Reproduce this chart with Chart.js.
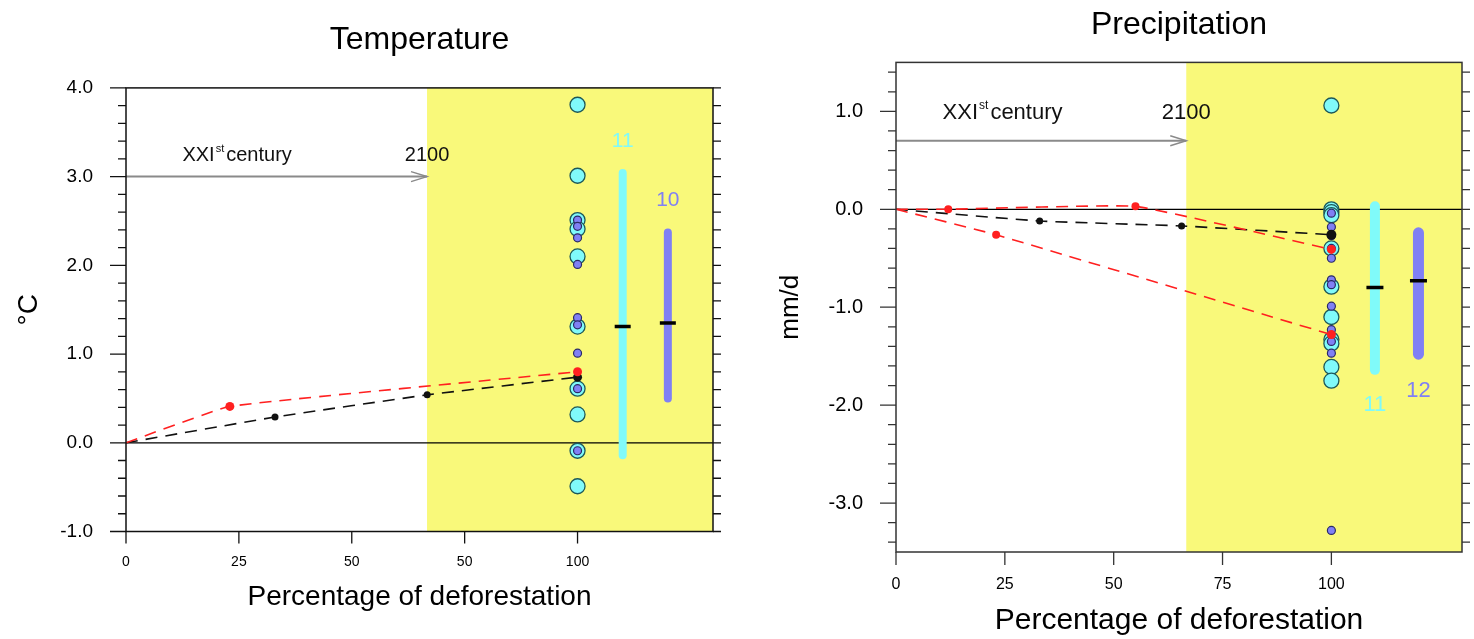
<!DOCTYPE html>
<html>
<head>
<meta charset="utf-8">
<title>Temperature and precipitation vs deforestation</title>
<script src="https://cdn.jsdelivr.net/npm/chart.js@4.4.0/dist/chart.umd.min.js"></script>
<style>
  body { margin: 0; background: #fff; }
  .panel { position: absolute; top: 0; width: 737px; height: 639px; }
  #tempPanel { left: 0; }
  #precPanel { left: 737px; }
</style>
</head>
<body>
<div class="panel" id="tempPanel"><canvas id="tempChart" width="737" height="639"></canvas></div>
<div class="panel" id="precPanel"><canvas id="precChart" width="737" height="639"></canvas></div>
<script>
// x positions of the columns (percentage of deforestation)
const MODELS_AT = 100;
const RANGE_A_AT = 110;
const RANGE_B_AT = 120;

// shared x ticks
const xTickVals = [0, 25, 50, 75, 100];
const tempXTickText = ['0', '25', '50', '50', '100'];
const precXTickText = ['0', '25', '50', '75', '100'];

// ---- Temperature (°C) ----
const tempYTicks = [-1, 0, 1, 2, 3, 4];
const tempCyan   = [3.81, 3.01, 2.51, 2.41, 2.10, 1.31, 0.61, 0.32, -0.09, -0.49];
const tempPurple = [2.51, 2.44, 2.31, 2.01, 1.41, 1.33, 1.01, 0.61, -0.09];
const tempRedX   = [0, 23, 100];
const tempRedY   = [0, 0.41, 0.80];
const tempBlackX = [0, 33, 66.7, 100];
const tempBlackY = [0, 0.29, 0.54, 0.74];
const tempCyanRange   = [-0.14, 3.04];
const tempPurpleRange = [0.50, 2.37];
const tempMedians     = [1.31, 1.35];
const tempCounts      = ['11', '10'];

// ---- Precipitation (mm/d) ----
const precYTicks = [-3, -2, -1, 0, 1];
const precCyan   = [1.06, 0.00, -0.03, -0.06, -0.40, -0.79, -1.10, -1.33, -1.37, -1.61, -1.75];
const precPurple = [-0.04, -0.18, -0.27, -0.40, -0.50, -0.72, -0.77, -0.99, -1.23, -1.35, -1.47, -3.28];
const precRedAX  = [0, 12, 55, 100];
const precRedAY  = [0, 0.00, 0.03, -0.41];
const precRedBX  = [0, 23, 100];
const precRedBY  = [0, -0.26, -1.28];
const precBlackX = [0, 33, 65.6, 100];
const precBlackY = [0, -0.12, -0.17, -0.26];
const precCyanRange   = [-1.64, 0.03];
const precPurpleRange = [-1.48, -0.24];
const precMedians     = [-0.80, -0.73];
const precCounts      = ['11', '12'];

const FONT = '"Liberation Sans", Arial, Helvetica, sans-serif';
const CYAN = '#80fafa';
const PURPLE = '#8080f4';
const YELLOW = '#f9f97a';

Chart.defaults.font.family = FONT;
Chart.defaults.color = '#000';

function pts(xs, ys) { return xs.map((x, i) => ({ x: x, y: ys[i] })); }
function column(xv, ys) { return ys.map(v => ({ x: xv, y: v })); }

function dashedLine(xs, ys, color, radii) {
    return {
        showLine: true,
        data: pts(xs, ys),
        borderColor: color,
        backgroundColor: color,
        borderWidth: 1.6,
        borderDash: [12, 8],
        tension: 0.1,
        pointRadius: radii,
        pointBorderWidth: 0,
        pointHoverRadius: 0
    };
}

function rangeBar(xv, range, color, width) {
    return {
        showLine: true,
        data: column(xv, range),
        borderColor: color,
        borderWidth: width,
        borderCapStyle: 'round',
        pointRadius: 0,
        pointHoverRadius: 0
    };
}

// yellow zone, zero line, arrow, frame, ticks and annotations
const decorPlugin = {
    id: 'decor',
    beforeDatasetsDraw(chart, args, o) {
        const { ctx, chartArea: a, scales: { x, y } } = chart;
        ctx.save();
        const zx = x.getPixelForValue(o.zoneFrom);
        ctx.fillStyle = YELLOW;
        ctx.fillRect(zx, a.top, a.right - zx, a.bottom - a.top);

        const y0 = y.getPixelForValue(0);
        ctx.strokeStyle = '#000';
        ctx.lineWidth = 1.3;
        ctx.beginPath(); ctx.moveTo(a.left, y0); ctx.lineTo(a.right, y0); ctx.stroke();

        // XXIst century arrow
        const ay = y.getPixelForValue(o.arrowAt);
        ctx.strokeStyle = '#8a8a8a';
        ctx.lineWidth = 2;
        ctx.beginPath(); ctx.moveTo(x.getPixelForValue(0), ay); ctx.lineTo(zx, ay); ctx.stroke();
        ctx.lineWidth = 1.5;
        ctx.beginPath(); ctx.moveTo(zx - 16, ay - 5); ctx.lineTo(zx, ay); ctx.lineTo(zx - 16, ay + 5); ctx.stroke();

        const s = o.textSize;
        const by = y.getPixelForValue(o.textAt);
        let tx = x.getPixelForValue(o.textFrom);
        ctx.fillStyle = '#111';
        ctx.textBaseline = 'alphabetic';
        ctx.textAlign = 'left';
        ctx.font = s + 'px ' + FONT;
        ctx.fillText('XXI', tx, by);
        tx += ctx.measureText('XXI').width + 1;
        ctx.font = Math.round(s * 0.55) + 'px ' + FONT;
        ctx.fillText('st', tx, by - s * 0.45);
        tx += ctx.measureText('st').width + 2;
        ctx.font = s + 'px ' + FONT;
        ctx.fillText('century', tx, by);
        ctx.textAlign = 'center';
        ctx.fillText('2100', zx, by);
        ctx.restore();
    },
    afterDatasetsDraw(chart, args, o) {
        const { ctx, chartArea: a, scales: { x, y } } = chart;
        ctx.save();
        ctx.strokeStyle = o.frameColor;
        ctx.lineWidth = 1.5;
        ctx.strokeRect(a.left, a.top, a.right - a.left, a.bottom - a.top);

        // y ticks: left major/minor, right mirrored
        ctx.lineWidth = 1.3;
        ctx.beginPath();
        for (let v = Math.ceil(y.min / 0.2 - 1e-6) * 0.2; v <= y.max + 1e-6; v += 0.2) {
            const py = y.getPixelForValue(v);
            const major = Math.abs(v - Math.round(v)) < 1e-6;
            ctx.moveTo(a.left - (major ? 16 : 8), py); ctx.lineTo(a.left, py);
            ctx.moveTo(a.right, py); ctx.lineTo(a.right + 8, py);
        }
        x.ticks.forEach(t => {
            const px = x.getPixelForValue(t.value);
            ctx.moveTo(px, a.bottom); ctx.lineTo(px, a.bottom + o.xTickLen);
        });
        ctx.stroke();

        // ensemble counts
        ctx.font = o.countSize + 'px ' + FONT;
        ctx.textAlign = 'center';
        ctx.textBaseline = 'middle';
        o.counts.forEach(c => {
            ctx.fillStyle = c.color;
            ctx.fillText(c.text, x.getPixelForValue(c.x), y.getPixelForValue(c.y));
        });
        ctx.restore();
    }
};

function renderPanel(canvasId, d, look) {
    const ctx = document.getElementById(canvasId);
    const datasets = [];
    d.lines.forEach(l => datasets.push(dashedLine(l.x, l.y, l.color, l.radii)));
    // medians of the two ensembles
    datasets.push({
        data: [{ x: RANGE_A_AT, y: d.medians[0] }, { x: RANGE_B_AT, y: d.medians[1] }],
        pointStyle: 'line',
        pointRadius: look.medianR,
        borderColor: '#000',
        borderWidth: 3.5,
        pointHoverRadius: 0
    });
    datasets.push({
        data: column(MODELS_AT, d.purple),
        pointRadius: 4,
        backgroundColor: PURPLE,
        borderColor: '#2a2a66',
        borderWidth: 1.2,
        pointHoverRadius: 0
    });
    datasets.push({
        data: column(MODELS_AT, d.cyan),
        pointRadius: 7.5,
        backgroundColor: CYAN,
        borderColor: '#1d5858',
        borderWidth: 1.3,
        pointHoverRadius: 0
    });
    datasets.push(rangeBar(RANGE_A_AT, d.cyanRange, CYAN, look.barW[0]));
    datasets.push(rangeBar(RANGE_B_AT, d.purpleRange, PURPLE, look.barW[1]));

    return new Chart(ctx, {
        type: 'scatter',
        data: { datasets: datasets },
        options: {
            responsive: false,
            animation: false,
            events: [],
            layout: { padding: { left: 0, right: look.padRight, top: 0, bottom: 0 } },
            scales: {
                x: {
                    type: 'linear',
                    min: 0,
                    max: 130,
                    afterBuildTicks: s => { s.ticks = xTickVals.map(v => ({ value: v })); },
                    afterFit: s => { s.height = look.xAxisH; },
                    grid: { display: false, drawTicks: false },
                    border: { display: false },
                    ticks: {
                        autoSkip: false,
                        maxRotation: 0,
                        padding: look.xTickPad,
                        font: { size: look.xTickSize },
                        callback: (v, i) => d.xText[i]
                    },
                    title: {
                        display: true,
                        text: 'Percentage of deforestation',
                        font: { size: look.xTitleSize },
                        padding: { top: 0, bottom: look.xTitlePad }
                    }
                },
                y: {
                    min: d.yMin,
                    max: d.yMax,
                    afterBuildTicks: s => { s.ticks = d.yTicks.map(v => ({ value: v })); },
                    afterFit: s => { s.width = look.yAxisW; },
                    grid: { display: false, drawTicks: false },
                    border: { display: false },
                    ticks: {
                        autoSkip: false,
                        padding: 33,
                        font: { size: look.yTickSize },
                        callback: v => v.toFixed(1)
                    },
                    title: {
                        display: true,
                        text: d.yTitle,
                        font: { size: look.yTitleSize },
                        padding: { top: look.yTitlePad, bottom: 0 }
                    }
                }
            },
            plugins: {
                legend: { display: false },
                tooltip: { enabled: false },
                title: {
                    display: true,
                    text: d.title,
                    fullSize: false,
                    color: '#000',
                    font: { size: 32, weight: 'normal' },
                    padding: { top: look.titleTop, bottom: look.titleBottom }
                },
                decor: {
                    zoneFrom: 200 / 3,
                    arrowAt: d.arrowAt,
                    textAt: d.textAt,
                    textFrom: d.textFrom,
                    textSize: look.textSize,
                    frameColor: look.frameColor,
                    xTickLen: look.xTickLen,
                    countSize: look.countSize,
                    counts: [
                        { x: RANGE_A_AT, y: d.countY[0], text: d.counts[0], color: CYAN },
                        { x: RANGE_B_AT, y: d.countY[1], text: d.counts[1], color: PURPLE }
                    ]
                }
            }
        },
        plugins: [decorPlugin]
    });
}

document.addEventListener('DOMContentLoaded', () => {
    renderPanel('tempChart', {
        title: 'Temperature', yTitle: '°C', yMin: -1, yMax: 4, yTicks: tempYTicks,
        xText: tempXTickText,
        lines: [
            { x: tempRedX, y: tempRedY, color: '#ff2020', radii: [0, 4.5, 4.5] },
            { x: tempBlackX, y: tempBlackY, color: '#111', radii: [0, 3.5, 3.5, 4.5] }
        ],
        cyan: tempCyan, purple: tempPurple,
        cyanRange: tempCyanRange, purpleRange: tempPurpleRange, medians: tempMedians,
        counts: tempCounts, countY: [3.4, 2.73],
        arrowAt: 3.0, textAt: 3.18, textFrom: 12.5
    }, {
        padRight: 24, yAxisW: 126, xAxisH: 107.5, titleTop: 21, titleBottom: 28.5,
        xTickSize: 14, xTickPad: 22, xTitleSize: 28, xTitlePad: 25,
        yTickSize: 19, yTitleSize: 28, yTitlePad: 12,
        textSize: 20, countSize: 21, frameColor: '#111', xTickLen: 12,
        medianR: 8, barW: [8, 8]
    });

    renderPanel('precChart', {
        title: 'Precipitation', yTitle: 'mm/d', yMin: -3.5, yMax: 1.5, yTicks: precYTicks,
        xText: precXTickText,
        lines: [
            { x: precRedAX, y: precRedAY, color: '#ff2020', radii: [0, 4, 4, 4.5] },
            { x: precRedBX, y: precRedBY, color: '#ff2020', radii: [0, 4, 4.5] },
            { x: precBlackX, y: precBlackY, color: '#111', radii: [0, 3.5, 3.5, 5] }
        ],
        cyan: precCyan, purple: precPurple,
        cyanRange: precCyanRange, purpleRange: precPurpleRange, medians: precMedians,
        counts: precCounts, countY: [-2.0, -1.86],
        arrowAt: 0.7, textAt: 0.92, textFrom: 10.7
    }, {
        padRight: 8, yAxisW: 159, xAxisH: 87, titleTop: 6, titleBottom: 18,
        xTickSize: 16, xTickPad: 23, xTitleSize: 30, xTitlePad: 0,
        yTickSize: 20, yTitleSize: 26, yTitlePad: 38,
        textSize: 22, countSize: 22, frameColor: '#333', xTickLen: 13,
        medianR: 8.5, barW: [10, 11]
    });
});
</script>
</body>
</html>
